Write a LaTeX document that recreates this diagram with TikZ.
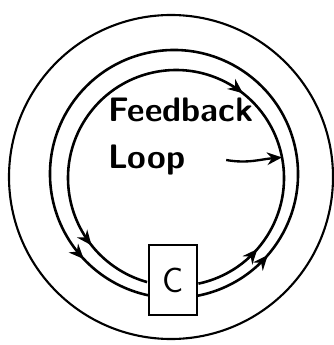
\documentclass[tikz,border=0pt]{standalone}
\usepackage{tikz}
\usetikzlibrary{arrows.meta, positioning, decorations.markings}

\begin{document}
\begin{tikzpicture}[x=0.3mm, y=-0.3mm,
    ring/.style={line width=1.8pt},
    flow/.style={line width=2.2pt, postaction={decorate}},
    >={Stealth[length=4.5mm, width=3.8mm]},
  ]
  \useasboundingbox (0,0) rectangle (333,345);
  % centres of the three rings
  \coordinate (oc) at (171,177);
  \coordinate (mc) at (174,174);
  \coordinate (ic) at (176,178);

  \draw[ring] (oc) circle[radius=162];

  % middle loop, out of C on the right and back in on the left
  \draw[flow, decoration={markings,
      mark=at position 0.113 with {\arrow{>}},
      mark=at position 0.896 with {\arrow{>}}}]
    ([shift={(79:124)}]mc) arc[start angle=79, end angle=-258.4, radius=124];

  % inner loop
  \draw[flow, decoration={markings,
      mark=at position 0.111 with {\arrow{>}},
      mark=at position 0.39 with {\arrowreversed{>}},
      mark=at position 0.892 with {\arrow{>}}}]
    ([shift={(78:108)}]ic) arc[start angle=78, end angle=-254.5, radius=108];

  \node[draw, line width=2pt, fill=white, minimum width=14.4mm,
        minimum height=21mm, font=\sffamily\fontsize{30}{32}\selectfont]
    (ctrl) at (173,280) {C};

  \node[font=\sffamily\bfseries\fontsize{29}{31}\selectfont, anchor=west]
    (feedback) at (104,110) {Feedback};
  \node[font=\sffamily\bfseries\fontsize{29}{31}\selectfont, anchor=west]
    (loop) at (104,160) {Loop};

  \coordinate (hit) at ([shift={(-11:108)}]ic);
  \draw[line width=2pt, ->] ([xshift=11mm]loop.east)
    to[out=-10, in=185] (hit);
\end{tikzpicture}
\end{document}
